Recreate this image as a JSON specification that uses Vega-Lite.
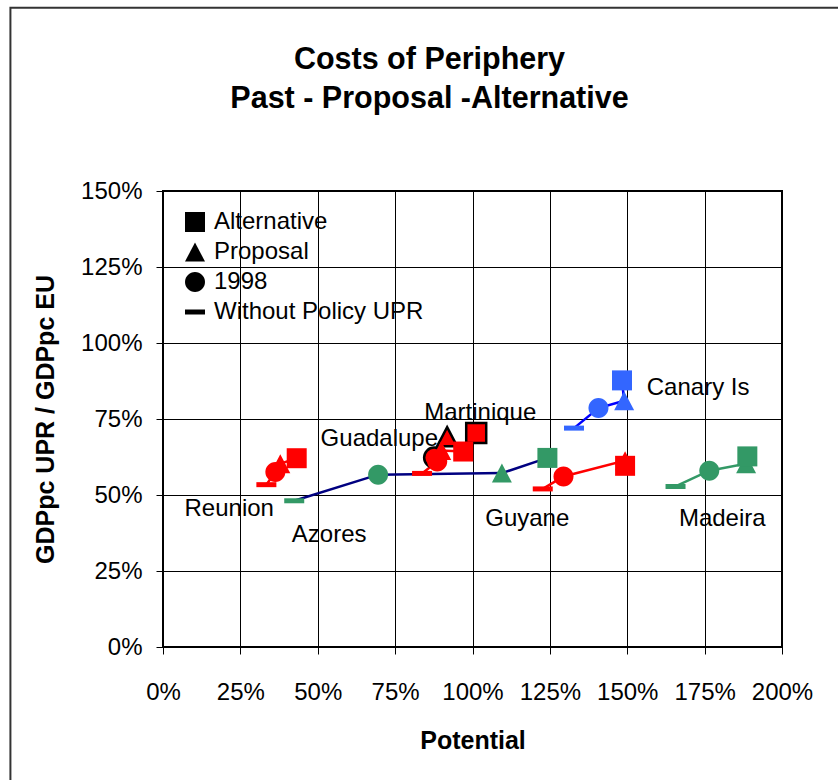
{
  "$schema": "https://vega.github.io/schema/vega-lite/v6.json",
  "width": 619,
  "height": 456,
  "autosize": {"type": "none"},
  "padding": {"left": 163, "top": 191, "right": 56, "bottom": 133},
  "background": "white",
  "config": {
    "font": "Liberation Sans",
    "view": {"stroke": "black", "strokeWidth": 2},
    "axis": {
      "grid": true,
      "gridColor": "black",
      "gridWidth": 1,
      "gridOpacity": 1,
      "domain": false,
      "tickColor": "black",
      "tickSize": 7,
      "tickWidth": 1,
      "labelFont": "Liberation Sans",
      "labelFontSize": 24,
      "labelColor": "black",
      "titleFont": "Liberation Sans",
      "titleFontSize": 25,
      "titleFontWeight": "bold",
      "titleColor": "black"
    }
  },
  "title": {
    "text": ["Costs of Periphery", "Past - Proposal -Alternative"],
    "font": "Liberation Sans",
    "fontSize": 30.5,
    "fontWeight": "bold",
    "color": "black",
    "lineHeight": 39,
    "anchor": "middle",
    "frame": "group",
    "dx": -43,
    "offset": -108
  },
  "datasets": {
    "pts": [
      {"region": "Martinique", "scenario": "1998", "step": 2, "x": 87.6, "y": 62.3},
      {"region": "Martinique", "scenario": "Proposal", "step": 3, "x": 91.8, "y": 69.2},
      {"region": "Martinique", "scenario": "Alternative", "step": 4, "x": 101.2, "y": 70.4},
      {"region": "Reunion", "scenario": "Without Policy UPR", "step": 1, "x": 33.4, "y": 53.4},
      {"region": "Reunion", "scenario": "1998", "step": 2, "x": 36.3, "y": 57.6},
      {"region": "Reunion", "scenario": "Proposal", "step": 3, "x": 37.9, "y": 60.3},
      {"region": "Reunion", "scenario": "Alternative", "step": 4, "x": 43.2, "y": 62.1},
      {"region": "Azores", "scenario": "Without Policy UPR", "step": 1, "x": 42.4, "y": 48.1},
      {"region": "Azores", "scenario": "1998", "step": 2, "x": 69.5, "y": 56.7},
      {"region": "Azores", "scenario": "Proposal", "step": 3, "x": 109.5, "y": 57.2},
      {"region": "Azores", "scenario": "Alternative", "step": 4, "x": 124.2, "y": 62.2},
      {"region": "Guadalupe", "scenario": "Without Policy UPR", "step": 1, "x": 83.7, "y": 57.1},
      {"region": "Guadalupe", "scenario": "1998", "step": 2, "x": 88.6, "y": 61.0},
      {"region": "Guadalupe", "scenario": "Proposal", "step": 3, "x": 89.9, "y": 64.6},
      {"region": "Guadalupe", "scenario": "Alternative", "step": 4, "x": 97.0, "y": 64.3},
      {"region": "Guyane", "scenario": "Without Policy UPR", "step": 1, "x": 122.7, "y": 52.0},
      {"region": "Guyane", "scenario": "1998", "step": 2, "x": 129.4, "y": 56.1},
      {"region": "Guyane", "scenario": "Proposal", "step": 3, "x": 149.3, "y": 61.3},
      {"region": "Guyane", "scenario": "Alternative", "step": 4, "x": 149.3, "y": 59.6},
      {"region": "Canary Is", "scenario": "Without Policy UPR", "step": 1, "x": 132.8, "y": 72.0},
      {"region": "Canary Is", "scenario": "1998", "step": 2, "x": 140.7, "y": 78.6},
      {"region": "Canary Is", "scenario": "Proposal", "step": 3, "x": 149.0, "y": 81.0},
      {"region": "Canary Is", "scenario": "Alternative", "step": 4, "x": 148.3, "y": 87.7},
      {"region": "Madeira", "scenario": "Without Policy UPR", "step": 1, "x": 165.6, "y": 52.8},
      {"region": "Madeira", "scenario": "1998", "step": 2, "x": 176.5, "y": 58.0},
      {"region": "Madeira", "scenario": "Proposal", "step": 3, "x": 188.4, "y": 60.3},
      {"region": "Madeira", "scenario": "Alternative", "step": 4, "x": 188.8, "y": 62.7}
    ],
    "labels": [
      {"name": "Reunion", "x": 21.4, "y": 43.0},
      {"name": "Azores", "x": 53.7, "y": 34.4},
      {"name": "Guadalupe", "x": 69.9, "y": 66.0},
      {"name": "Martinique", "x": 102.5, "y": 74.8},
      {"name": "Guyane", "x": 117.7, "y": 39.7},
      {"name": "Madeira", "x": 180.7, "y": 39.9},
      {"name": "Canary Is", "x": 172.9, "y": 83.0}
    ]
  },
  "layer": [
    {
      "data": {"name": "pts"},
      "transform": [{"filter": "datum.region !== 'Martinique'"}],
      "mark": {"type": "line", "strokeWidth": 2.5},
      "encoding": {
        "x": {
          "field": "x", "type": "quantitative",
          "scale": {"domain": [0, 200], "nice": false, "zero": false},
          "axis": {
            "title": "Potential",
            "values": [0, 25, 50, 75, 100, 125, 150, 175, 200],
            "labelExpr": "datum.value + '%'",
            "labelPadding": 26,
            "titlePadding": 24,
            "labelFlush": false,
            "labelOverlap": false
          }
        },
        "y": {
          "field": "y", "type": "quantitative",
          "scale": {"domain": [0, 150], "nice": false, "zero": false},
          "axis": {
            "title": "GDPpc UPR / GDPpc EU",
            "values": [0, 25, 50, 75, 100, 125, 150],
            "labelExpr": "datum.value + '%'",
            "labelPadding": 14,
            "titlePadding": 22,
            "labelFlush": false,
            "labelOverlap": false
          }
        },
        "stroke": {
          "field": "region", "type": "nominal",
          "scale": {
            "domain": ["Reunion", "Azores", "Guadalupe", "Guyane", "Canary Is", "Madeira"],
            "range": ["#FF0000", "#000080", "#FF0000", "#FF0000", "#0000FF", "#339966"]
          },
          "legend": null
        },
        "order": {"field": "step", "type": "quantitative"}
      }
    },
    {
      "data": {"name": "pts"},
      "mark": {"type": "point", "filled": true, "opacity": 1, "size": 400, "strokeWidth": 2.5},
      "encoding": {
        "x": {"field": "x", "type": "quantitative"},
        "y": {"field": "y", "type": "quantitative"},
        "shape": {
          "field": "scenario", "type": "nominal",
          "scale": {
            "domain": ["Alternative", "Proposal", "1998", "Without Policy UPR"],
            "range": [
              "M-1,-1H1V1H-1Z",
              "M0,-0.95L1,0.95L-1,0.95Z",
              "M1,0A1,1,0,1,1,-1,0A1,1,0,1,1,1,0Z",
              "M-1,-0.25H1V0.25H-1Z"
            ]
          },
          "legend": {
            "title": null,
            "orient": "none",
            "legendX": 20,
            "legendY": 19,
            "padding": 0,
            "symbolSize": 400,
            "symbolFillColor": "black",
            "symbolStrokeColor": "black",
            "symbolStrokeWidth": 0,
            "labelFont": "Liberation Sans",
            "labelFontSize": 24,
            "labelColor": "black",
            "labelOffset": 7,
            "rowPadding": 6,
            "labelLimit": 400,
            "labelExpr": "(datum.label === '1998' || datum.label === 'Without Policy UPR') ? '\u00a0' + datum.label : datum.label"
          }
        },
        "color": {
          "field": "region", "type": "nominal",
          "scale": {
            "domain": ["Martinique", "Reunion", "Azores", "Guadalupe", "Guyane", "Canary Is", "Madeira"],
            "range": ["#FF0000", "#FF0000", "#339966", "#FF0000", "#FF0000", "#3366FF", "#339966"]
          },
          "legend": null
        },
        "stroke": {
          "condition": {"test": "datum.region === 'Martinique'", "value": "black"},
          "value": "transparent"
        }
      }
    },
    {
      "data": {"name": "labels"},
      "mark": {"type": "text", "font": "Liberation Sans", "fontSize": 24, "color": "black", "align": "center", "baseline": "alphabetic"},
      "encoding": {
        "x": {"field": "x", "type": "quantitative"},
        "y": {"field": "y", "type": "quantitative"},
        "text": {"field": "name", "type": "nominal"}
      }
    },
    {
      "data": {"values": [{}]},
      "mark": {"type": "rect", "fill": "transparent", "stroke": "#333333", "strokeWidth": 2},
      "encoding": {
        "x": {"datum": -49.3, "type": "quantitative"},
        "x2": {"datum": 300},
        "y": {"datum": 210.3, "type": "quantitative"},
        "y2": {"datum": -100}
      }
    }
  ]
}
